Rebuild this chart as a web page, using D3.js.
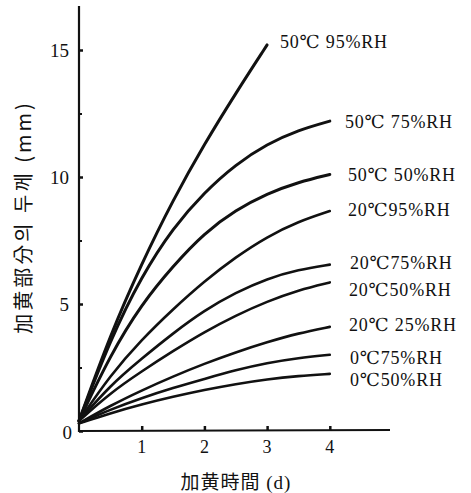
<!DOCTYPE html>
<html><head><meta charset="utf-8">
<script src="https://cdn.jsdelivr.net/npm/d3@7/dist/d3.min.js"></script>
<style>
html,body{margin:0;padding:0;background:#fff;}
svg text{font-family:"Liberation Serif","DejaVu Serif","Noto Sans CJK KR",serif;fill:#111;}
</style></head>
<body>
<svg id="c" width="471" height="493"></svg>
<script>
const days = [0, 0.5, 1, 1.5, 2, 2.5, 3, 3.5, 4];
const seriesNames = ["50℃ 95%RH","50℃ 75%RH","50℃ 50%RH","20℃95%RH","20℃75%RH","20℃50%RH","20℃ 25%RH","0℃75%RH","0℃50%RH"];
const s50_95 = [0.4, 3.8, 6.6, 9.1, 11.3, 13.3, 15.2];
const s50_75 = [0.4, 3.6, 6.1, 8.0, 9.4, 10.5, 11.3, 11.85, 12.2];
const s50_50 = [0.4, 3.0, 5.0, 6.5, 7.8, 8.7, 9.35, 9.8, 10.1];
const s20_95 = [0.4, 2.2, 3.6, 4.8, 5.9, 6.85, 7.65, 8.25, 8.66];
const s20_75 = [0.4, 1.8, 2.85, 3.85, 4.75, 5.45, 6.0, 6.35, 6.55];
const s20_50 = [0.4, 1.5, 2.35, 3.15, 3.9, 4.55, 5.1, 5.55, 5.85];
const s20_25 = [0.3, 1.0, 1.6, 2.15, 2.65, 3.1, 3.5, 3.85, 4.1];
const s0_75 = [0.3, 0.85, 1.3, 1.7, 2.05, 2.4, 2.68, 2.88, 3.0];
const s0_50 = [0.3, 0.7, 1.05, 1.35, 1.62, 1.85, 2.04, 2.17, 2.25];
const allSeries = [s50_95, s50_75, s50_50, s20_95, s20_75, s20_50, s20_25, s0_75, s0_50];
const xTicks = [1, 2, 3, 4];
const yTicks = [0, 5, 10, 15];
const yMinor = [2.5, 7.5, 12.5];
const yLabel = "加黄部分의 두께 (mm)";
const xLabel = "加黄時間 (d)";

// label placement (pixels)
const labelPos = [[280,48],[345,128],[348,181],[348,216],[350,269],[349,296],[349,331],[350,364],[350,386]];

const svg = d3.select("#c");
const x = d3.scaleLinear().domain([0, 4.96]).range([79, 390]);
const y = d3.scaleLinear().domain([0, 15]).range([431, 50]);

// axes
const gy = svg.append("g").attr("transform", `translate(${x(0)},0)`).call(d3.axisRight(y).tickValues(yTicks).tickSize(4).tickFormat(""));
gy.select(".domain").remove();
gy.selectAll(".tick line").attr("stroke","#111").attr("stroke-width",2.5);
const gym = svg.append("g").attr("transform", `translate(${x(0)},0)`).call(d3.axisRight(y).tickValues(yMinor).tickSize(3).tickFormat(""));
gym.select(".domain").remove();
gym.selectAll(".tick line").attr("stroke","#111").attr("stroke-width",2);
svg.append("line").attr("x1",x(0)).attr("x2",x(0)).attr("y1",y(0)+1).attr("y2",6).attr("stroke","#111").attr("stroke-width",2.2);
svg.append("line").attr("x1",x(0)-1).attr("x2",390).attr("y1",y(0)).attr("y2",y(0)-1).attr("stroke","#111").attr("stroke-width",2.2);

svg.selectAll("text.yt").data(yTicks).join("text").attr("class","yt")
  .attr("x", d => d===0 ? 72 : 69).attr("y", d => y(d) + (d===0?8:7)).attr("text-anchor","end")
  .attr("font-size",19).text(d => d);

const gx = svg.append("g").attr("transform", `translate(0,${y(0)})`).call(d3.axisTop(x).tickValues(xTicks).tickSize(5).tickFormat(""));
gx.select(".domain").remove();
gx.selectAll(".tick line").attr("stroke","#111").attr("stroke-width",2.5);
svg.selectAll("text.xt").data(xTicks).join("text").attr("class","xt")
  .attr("x", d => x(d)).attr("y", 453).attr("text-anchor","middle")
  .attr("font-size",18).text(d => d);

// curves
const line = d3.line().x((d,i) => x(days[i])).y(d => y(d)).curve(d3.curveBasis);
svg.selectAll("path.s").data(allSeries).join("path").attr("class","s")
  .attr("d", d => line(d)).attr("fill","none").attr("stroke","#111")
  .attr("stroke-width", (d,i) => i < 3 ? 3 : 2.6).attr("stroke-linecap","round");

svg.selectAll("text.lab").data(seriesNames).join("text").attr("class","lab")
  .attr("x",(d,i)=>labelPos[i][0]).attr("y",(d,i)=>labelPos[i][1])
  .attr("font-size",18).attr("letter-spacing",0.8).text(d => d);

svg.append("text").attr("transform","translate(31,217) rotate(-90)")
  .attr("text-anchor","middle").attr("font-size",20).attr("letter-spacing",3)
  .style("font-family","'Noto Sans CJK KR','Liberation Serif',serif")
  .text(yLabel);
svg.append("text").attr("x",236).attr("y",489).attr("text-anchor","middle")
  .attr("font-size",19).attr("letter-spacing",1).style("font-family","'Liberation Serif','Noto Sans CJK JP',serif")
  .text(xLabel);
</script>
</body></html>
